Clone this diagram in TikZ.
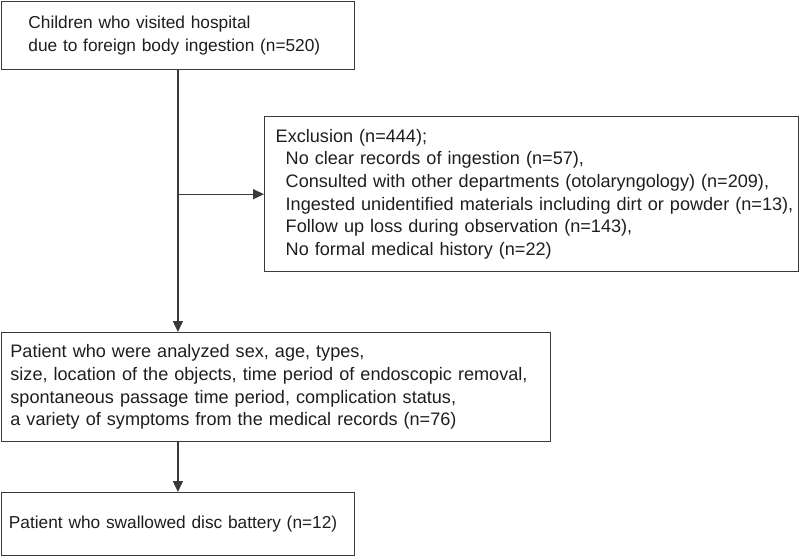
\documentclass[tikz,border=0pt]{standalone}
\usepackage{fontspec}
\setmainfont{Liberation Sans}
\usetikzlibrary{arrows.meta, positioning}
\definecolor{CLine}{HTML}{3A3A3A}
\definecolor{CText}{HTML}{1E1E1E}

\begin{document}
\begin{tikzpicture}[x=1pt, y=-1pt,
    box/.style={draw=CLine, line width=1.4pt, rectangle, anchor=north west, align=left, text=CText,
                font=\fontsize{17.3}{22.8}\selectfont, inner ysep=0pt},
    wide/.style={font=\fontsize{18.1}{22.6}\selectfont},
    flow/.style={draw=CLine, line width=1.4pt, -{Triangle[length=11pt, width=10pt]}}]
    % Frame
    \useasboundingbox (0,0) rectangle (800,557);

    % Boxes
    \node[box, minimum width=353pt, minimum height=68pt, inner xsep=27pt, text width=299pt] (total) at (0.7,0.7)
        {Children who visited hospital\\due to foreign body ingestion (n=520)};
    \node[box, wide, minimum width=534pt, minimum height=155pt, inner xsep=1pt, text width=532pt] (excl) at (264,116)
        {\hspace*{10pt}Exclusion (n=444);\\
         \hspace*{20pt}No clear records of ingestion (n=57),\\
         \hspace*{20pt}Consulted with other departments (otolaryngology) (n=209),\\
         \hspace*{20pt}Ingested unidentified materials including dirt or powder (n=13),\\
         \hspace*{20pt}Follow up loss during observation (n=143),\\
         \hspace*{20pt}No formal medical history (n=22)};
    \node[box, wide, minimum width=549pt, minimum height=109pt, inner xsep=9pt, text width=531pt] (analyzed) at (0.7,332)
        {Patient who were analyzed sex, age, types,\\
         size, location of the objects, time period of endoscopic removal,\\
         spontaneous passage time period, complication status,\\
         a variety of symptoms from the medical records (n=76)};
    \node[box, minimum width=353pt, minimum height=63pt, inner xsep=7.5pt, text width=338pt] (battery) at (0.7,492)
        {Patient who swallowed disc battery (n=12)};

    % Connectors
    \coordinate (split) at (total.south |- excl.west);
    \draw[flow] (total.south) -- (total.south |- analyzed.north);
    \draw[flow] (split) -- (excl.west);
    \draw[flow] (total.south |- analyzed.south) -- (total.south |- battery.north);
\end{tikzpicture}
\end{document}
